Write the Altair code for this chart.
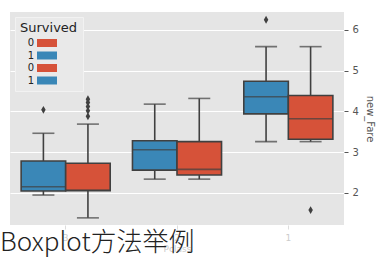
import altair as alt
import pandas as pd

# ---- data ----
groups = ["3", "3", "2", "2", "1", "1"]
survived = ["1", "0", "1", "0", "1", "0"]
whisk_lo = [1.95, 1.39, 2.34, 2.34, 3.26, 3.26]
q1 = [2.05, 2.055, 2.56, 2.44, 3.94, 3.32]
median = [2.155, 2.07, 3.06, 2.58, 4.36, 3.82]
q3 = [2.785, 2.73, 3.28, 3.26, 4.74, 4.39]
whisk_hi = [3.465, 3.69, 4.18, 4.32, 5.59, 5.59]

out_groups = ["3", "3", "3", "3", "3", "3", "1", "1"]
out_survived = ["1", "0", "0", "0", "0", "0", "1", "0"]
out_values = [4.04, 4.30, 4.22, 4.12, 4.02, 3.88, 6.25, 1.58]

group_order = ["3", "2", "1"]
hue_order = ["1", "0"]
legend_domain = ["0", "1", "0 ", "1 "]
blue = "#3A87B7"
red = "#D65239"
legend_range = [red, blue, red, blue]
title_text = "Boxplot方法举例"

box = pd.DataFrame({
    "Pclass": groups, "Survived": survived, "lo": whisk_lo, "q1": q1,
    "med": median, "q3": q3, "hi": whisk_hi,
})
outs = pd.DataFrame({"Pclass": out_groups, "Survived": out_survived, "v": out_values})
ttl = pd.DataFrame({"t": [title_text]})

edge = "#404040"
x_enc = alt.X("Pclass:N", sort=group_order,
              scale=alt.Scale(paddingInner=0.2, paddingOuter=0.1),
              axis=alt.Axis(title="Pclass", labelAngle=0, labelColor="#cccccc",
                            titleColor="#cccccc", tickColor="#dddddd", domain=False,
                            labelFontSize=9, titleFontSize=9, titleFontWeight="normal",
                            tickSize=4, labelPadding=4, titlePadding=2, grid=False))
xo = alt.XOffset("Survived:N", sort=hue_order,
                 scale=alt.Scale(paddingInner=0, paddingOuter=0))
y_scale = alt.Scale(domain=[1.215, 6.44], nice=False, zero=False)
y_axis = alt.Axis(orient="right", values=[2, 3, 4, 5, 6], title="new_Fare",
                  titleAngle=90, titleColor="#555555", labelColor="#555555",
                  tickColor="#555555", domain=False, gridColor="white",
                  gridWidth=1, tickSize=4, labelPadding=4, labelFontSize=10,
                  titleFontSize=10, titleFontWeight="normal", titlePadding=6)

base = alt.Chart(box)

whisk_low = base.mark_rule(color=edge, strokeWidth=1.6).encode(
    x=x_enc, xOffset=xo,
    y=alt.Y("lo:Q", scale=y_scale, axis=y_axis), y2="q1:Q")
whisk_high = base.mark_rule(color=edge, strokeWidth=1.6).encode(
    x=x_enc, xOffset=xo, y=alt.Y("q3:Q", scale=y_scale), y2="hi:Q")
bars = base.mark_bar(stroke=edge, strokeWidth=1.6).encode(
    x=x_enc, xOffset=xo,
    y=alt.Y("q1:Q", scale=y_scale), y2="q3:Q",
    color=alt.Color("Survived:N",
                    scale=alt.Scale(domain=legend_domain, range=legend_range),
                    legend=alt.Legend(
                        title="Survived", orient="top-left", offset=5,
                        fillColor="#E9E9E9", strokeColor="#F2F2F2", padding=5,
                        titleFontSize=13, titleFontWeight="normal", titleColor="#222222",
                        labelFontSize=10, labelColor="#222222",
                        symbolType="M-2.5,-1H2.5V1H-2.5Z", symbolSize=64,
                        symbolStrokeWidth=0, symbolOpacity=1, symbolOffset=22,
                        labelAlign="right", labelOffset=alt.ExprRef(expr="-18"),
                        rowPadding=2.5, titlePadding=3)))
med_tick = base.mark_tick(color=edge, thickness=1.6, size=44, orient="horizontal").encode(
    x=x_enc, xOffset=xo, y=alt.Y("med:Q", scale=y_scale))
cap_lo = base.mark_tick(color=edge, thickness=1.6, size=22, orient="horizontal").encode(
    x=x_enc, xOffset=xo, y=alt.Y("lo:Q", scale=y_scale))
cap_hi = base.mark_tick(color=edge, thickness=1.6, size=22, orient="horizontal").encode(
    x=x_enc, xOffset=xo, y=alt.Y("hi:Q", scale=y_scale))
points = alt.Chart(outs).mark_point(shape="M0,-1.3L0.75,0L0,1.3L-0.75,0Z", filled=True,
                                    color=edge, size=36, opacity=1).encode(
    x=x_enc, xOffset=xo, y=alt.Y("v:Q", scale=y_scale))
title = alt.Chart(ttl).mark_text(align="left", baseline="alphabetic", fontSize=26,
                                 font="Noto Sans CJK SC", fontWeight=300,
                                 color="#222222").encode(
    x=alt.value(-10), y=alt.value(239), text="t:N")

chart = alt.layer(whisk_low, whisk_high, bars, med_tick, cap_lo, cap_hi, points, title).properties(
    width=334, height=213,
    autosize=alt.AutoSizeParams(type="none"),
    padding={"left": 10, "top": 12, "right": 35, "bottom": 40},
    background="white",
).configure_view(fill="#E5E5E5", stroke=None).configure_axis(labelFont="DejaVu Sans", titleFont="DejaVu Sans"
).configure_legend(labelFont="DejaVu Sans", titleFont="DejaVu Sans")

chart.save("out.html", embed_options={"renderer": "svg", "actions": False})
